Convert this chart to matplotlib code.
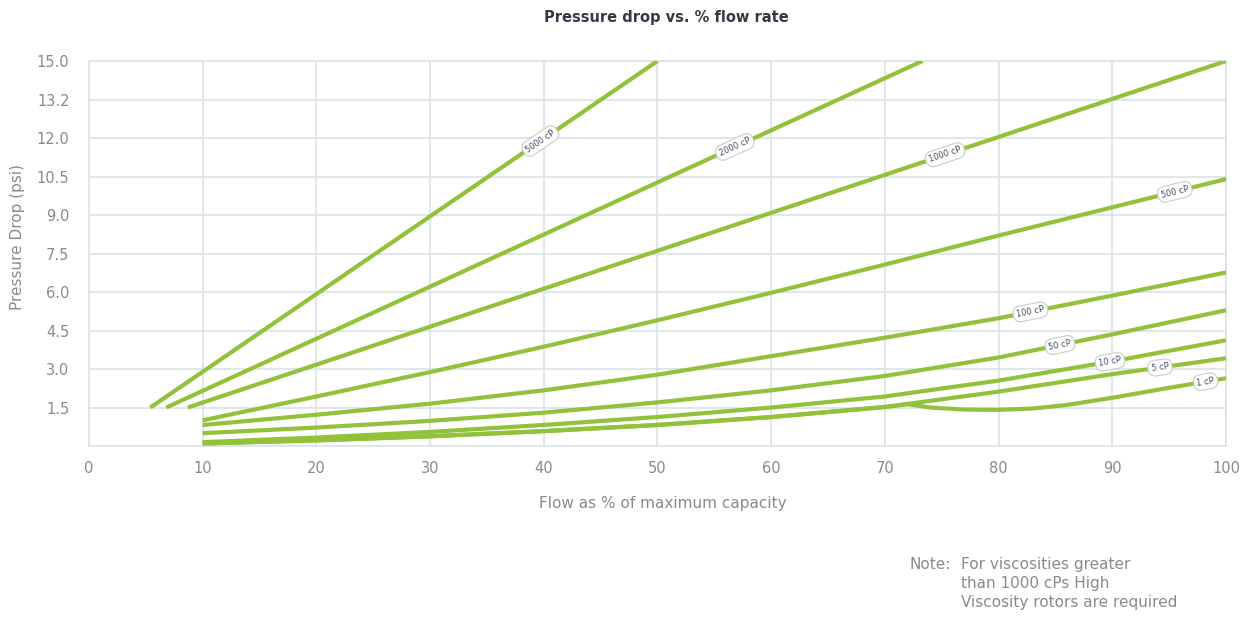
import matplotlib.pyplot as plt
import numpy as np

plt.rcParams["font.family"] = ["DejaVu Sans"]

# Flow (% of max capacity) vs pressure drop (psi)
flow_5000 = [5.4, 50.0]
drop_5000 = [1.5, 15.0]
flow_2000 = [6.8, 73.3]
drop_2000 = [1.5, 15.0]
flow_1000 = [8.7, 100.0]
drop_1000 = [1.5, 15.0]

flow_grid = [10, 20, 30, 40, 50, 60, 70, 80, 90, 100]
drop_500 = [1.0, 1.93, 2.88, 3.87, 4.9, 5.97, 7.07, 8.2, 9.3, 10.4]
drop_100 = [0.82, 1.22, 1.65, 2.17, 2.78, 3.5, 4.22, 4.98, 5.86, 6.76]
drop_50 = [0.5, 0.72, 0.98, 1.3, 1.7, 2.17, 2.73, 3.45, 4.35, 5.29]
drop_10 = [0.15, 0.33, 0.55, 0.82, 1.13, 1.5, 1.93, 2.55, 3.3, 4.12]
drop_5 = [0.1, 0.22, 0.38, 0.58, 0.82, 1.13, 1.52, 2.12, 2.8, 3.42]

flow_1 = [10, 20, 30, 40, 50, 60, 70, 72, 74, 77, 80, 83, 86, 90, 95, 100]
drop_1 = [0.1, 0.22, 0.38, 0.58, 0.82, 1.13, 1.52, 1.63, 1.5, 1.42, 1.41, 1.46, 1.6, 1.88, 2.27, 2.64]

# label name, x position along the curve
labels = ["5000 cP", "2000 cP", "1000 cP", "500 cP", "100 cP", "50 cP", "10 cP", "5 cP", "1 cP"]
label_x = [39.7, 56.8, 75.3, 95.5, 82.8, 85.4, 89.8, 94.2, 98.2]

y_ticks = [1.5, 3.0, 4.5, 6.0, 7.5, 9.0, 10.5, 12.0, 13.5, 15.0]
y_tick_labels = ["1.5", "3.0", "4.5", "6.0", "7.5", "9.0", "10.5", "12.0", "13.2", "15.0"]
x_ticks = list(range(0, 101, 10))

series = [
    (flow_5000, drop_5000),
    (flow_2000, drop_2000),
    (flow_1000, drop_1000),
    (flow_grid, drop_500),
    (flow_grid, drop_100),
    (flow_grid, drop_50),
    (flow_grid, drop_10),
    (flow_grid, drop_5),
    (flow_1, drop_1),
]

line_color = "#92c13a"
grid_color = "#d9e3e8"
text_grey = "#8a8a8a"

fig = plt.figure(figsize=(12.51, 6.20), dpi=100)
ax = fig.add_axes([0.0711, 0.2806, 0.9089, 0.621])

for xs, ys in series:
    ax.plot(xs, ys, color=line_color, lw=3.0, solid_capstyle="butt",
            solid_joinstyle="round", zorder=3)

ax.set_xlim(0, 100)
ax.set_ylim(0, 15)
ax.set_xticks(x_ticks)
ax.set_yticks(y_ticks)
ax.set_yticklabels(y_tick_labels)
ax.tick_params(length=0, colors=text_grey, labelsize=10.5)
ax.tick_params(axis="x", pad=11)
ax.tick_params(axis="y", pad=14)
ax.grid(True, color=grid_color, lw=1.2, zorder=0)
for s in ax.spines.values():
    s.set_color(grid_color)
    s.set_linewidth(1.2)

# inline curve labels, rotated along each curve
for (xs, ys), name, lx in zip(series, labels, label_x):
    xs = np.asarray(xs, dtype=float)
    ys = np.asarray(ys, dtype=float)
    ly = np.interp(lx, xs, ys)
    slope = (np.interp(lx + 0.5, xs, ys) - np.interp(lx - 0.5, xs, ys)) / 1.0
    angle = np.degrees(np.arctan(slope))
    ax.text(lx, ly, name, fontsize=6, color="#4a4f66", ha="center", va="center",
            rotation=angle, transform_rotates_text=True, rotation_mode="anchor", zorder=5,
            bbox=dict(boxstyle="round,pad=0.4,rounding_size=0.9", fc="white", ec="#c8cfc0", lw=0.8))

fig.text(0.533, 0.972, "Pressure drop vs. % flow rate", ha="center", va="center",
         fontsize=10.5, color="#333a45", fontweight="bold")
fig.text(0.53, 0.188, "Flow as % of maximum capacity", ha="center", va="center",
         fontsize=11, color=text_grey)
fig.text(0.014, 0.618, "Pressure Drop (psi)", ha="center", va="center", rotation=90,
         fontsize=11, color=text_grey)

fig.text(0.727, 0.102, "Note:", ha="left", va="top", fontsize=11, color=text_grey)
fig.text(0.768, 0.102, "For viscosities greater\nthan 1000 cPs High\nViscosity rotors are required",
         ha="left", va="top", fontsize=11, color=text_grey, linespacing=1.35)

fig.savefig("out.png", dpi=100)
